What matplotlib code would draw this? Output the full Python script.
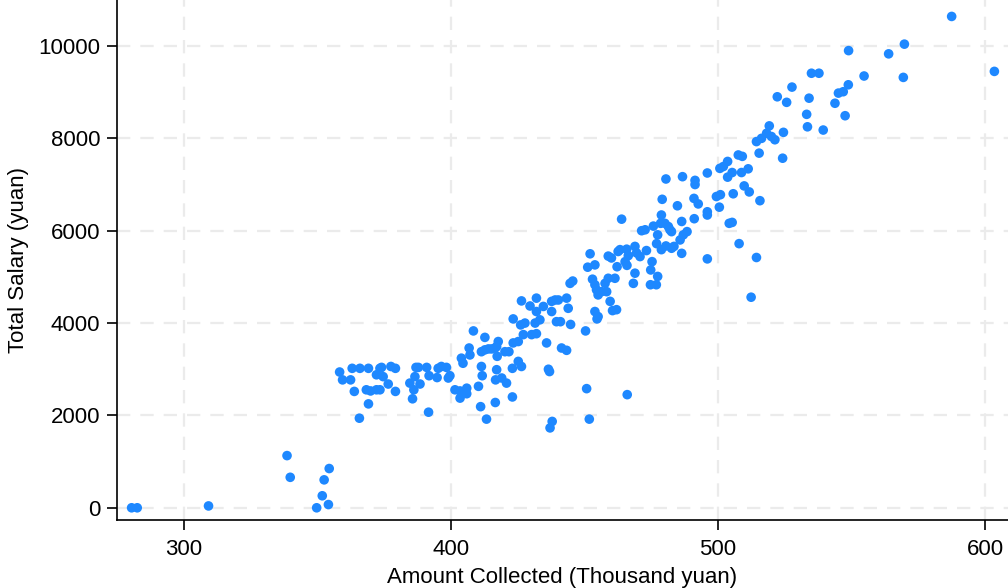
import matplotlib.pyplot as plt

# amount collected (thousand yuan) and total salary (yuan) per employee
amount = [
    280.4, 282.5, 309.2, 338.6, 339.8, 349.7, 354.1, 351.8, 352.5, 354.4,
    358.3, 359.4, 363.0, 362.4, 363.8, 365.7, 365.9, 369.1, 369.1, 368.3,
    369.9, 372.1, 373.4, 372.1, 373.4, 374.0, 374.6, 376.5, 377.5, 379.2,
    379.2, 384.6, 386.5, 386.9, 387.8, 390.9, 388.4, 386.1, 385.6, 391.6,
    391.8, 394.8, 395.2, 396.4, 398.3, 399.0, 399.6, 401.5, 403.4, 405.9,
    405.9, 403.4, 403.9, 404.5, 406.8, 407.1, 408.4, 410.3, 411.1, 411.4,
    411.7, 411.4, 412.7, 414.0, 415.2, 416.5, 417.7, 417.1, 412.7, 417.3,
    417.1, 416.7, 419.0, 420.8, 416.6, 413.3, 420.2, 421.7, 423.3, 423.0,
    423.0, 423.3, 425.2, 425.2, 426.4, 426.1, 427.7, 427.1, 426.4, 429.6,
    432.0, 432.0, 434.6, 437.7, 439.0, 440.2, 437.7, 443.3, 443.9, 444.6,
    445.6, 431.5, 433.3, 439.5, 441.0, 444.8, 430.2, 432.0, 435.8, 441.4,
    443.3, 436.5, 436.9, 450.4, 450.8, 466.0, 437.9, 437.1, 451.8, 452.1,
    451.2, 453.9, 453.0, 453.9, 454.5, 455.1, 456.4, 458.3, 457.7, 458.9,
    461.4, 459.6, 453.9, 455.1, 454.7, 460.5, 462.0, 458.9, 460.1, 462.6,
    463.3, 465.8, 465.2, 466.4, 468.9, 469.5, 468.9, 468.3, 462.2, 463.9,
    471.4, 472.7, 475.8, 478.8, 478.5, 480.1, 481.4, 482.0, 482.6, 477.4,
    477.0, 478.8, 480.5, 482.6, 483.5, 479.1, 480.5, 484.8, 486.4, 486.4,
    485.8, 487.0, 488.4, 486.7, 491.4, 491.4, 491.0, 492.6, 491.1, 496.0,
    496.0, 496.0, 470.8, 473.2, 475.3, 474.8, 477.4, 474.7, 476.9, 465.9,
    522.2, 525.7, 519.2, 518.2, 516.3, 514.4, 520.0, 521.3, 524.5, 515.4,
    524.2, 507.6, 509.1, 503.6, 500.7, 502.0, 505.3, 503.6, 508.8, 511.3,
    509.8, 511.7, 499.4, 500.9, 505.7, 515.7, 500.5, 496.0, 504.2, 505.3,
    507.9, 514.4, 535.0, 537.8, 548.8, 546.9, 545.1, 543.8, 547.6, 527.7,
    534.1, 533.2, 533.5, 539.4, 587.5, 603.5, 569.8, 569.4, 563.9, 554.7,
    548.9, 512.4,
]
salary = [
    0, 0, 40, 1130, 660, 0, 70, 260, 605, 850,
    2940, 2770, 3020, 2770, 2520, 1940, 3020, 3020, 2250, 2555,
    2530, 2555, 2555, 2880, 3020, 3040, 2840, 2680, 3060, 3020,
    2520, 2700, 2840, 3040, 3040, 3040, 2680, 2555, 2360, 2070,
    2860, 2820, 3020, 3060, 3040, 2810, 2860, 2555, 2530, 2590,
    2470, 2375, 3240, 3130, 3460, 3310, 3830, 2630, 2190, 3060,
    2860, 3380, 3420, 3440, 3440, 3460, 3600, 3490, 3690, 3280,
    2990, 2770, 2810, 2700, 2280, 1920, 3380, 3380, 4090, 3020,
    2400, 3570, 3600, 3170, 3060, 3960, 4000, 3750, 4480, 4370,
    4540, 4250, 4360, 4470, 4500, 4500, 4250, 4540, 4320, 4860,
    4910, 4000, 4070, 4030, 4030, 3970, 3750, 3770, 3570, 3460,
    3410, 3000, 2950, 3830, 2580, 2450, 1870, 1730, 1920, 5500,
    5210, 5260, 4950, 4830, 4720, 4610, 4680, 4680, 4860, 4970,
    4970, 4470, 4250, 4140, 4090, 4270, 4290, 5450, 5410, 5550,
    5590, 5600, 5330, 5460, 5660, 5520, 5080, 4860, 5220, 6250,
    6000, 6020, 6100, 6340, 6160, 6160, 6090, 6020, 5980, 5910,
    5720, 5590, 5670, 5620, 5660, 6680, 7120, 6540, 6200, 5510,
    5800, 5910, 5980, 7170, 7090, 7000, 6700, 6580, 6260, 7250,
    6410, 5390, 5440, 5570, 5330, 5150, 5010, 4830, 4830, 5250,
    8900, 8780, 8270, 8110, 8000, 7930, 8040, 7970, 8130, 7680,
    7570, 7640, 7610, 7500, 7350, 7390, 7260, 7160, 7260, 7340,
    6970, 6840, 6740, 6780, 6800, 6650, 6510, 6340, 6160, 6180,
    5720, 5420, 9410, 9410, 9160, 9010, 8980, 8760, 8490, 9110,
    8870, 8520, 8250, 8180, 10640, 9450, 10040, 9320, 9830, 9350,
    9900, 4560,
]

x_ticks = [300, 400, 500, 600]
y_ticks = [0, 2000, 4000, 6000, 8000, 10000]

plt.rcParams['font.family'] = ['Liberation Sans', 'DejaVu Sans']

fig = plt.figure(figsize=(10.08, 5.88), dpi=100)
ax = fig.add_axes([0.116, 0.116, 0.884, 0.884])

ax.scatter(amount, salary, s=48, color='#1e88ff', edgecolors='none', zorder=3)

ax.set_xlim(274.9, 608.6)
ax.set_ylim(-260, 10996)
ax.set_xticks(x_ticks)
ax.set_yticks(y_ticks)

ax.set_xlabel('Amount Collected (Thousand yuan)', fontsize=16, labelpad=5)
ax.set_ylabel('Total Salary (yuan)', fontsize=16, labelpad=7)
ax.tick_params(axis='both', labelsize=16, direction='out', length=7, width=1.2)
ax.tick_params(axis='x', pad=7)
ax.tick_params(axis='y', pad=5)

ax.grid(True, color='#ebebeb', linestyle=(0, (6, 4.5)), linewidth=1.6, zorder=0)
ax.set_axisbelow(True)
ax.spines['top'].set_visible(False)
ax.spines['right'].set_visible(False)
ax.spines['left'].set_linewidth(1.2)
ax.spines['bottom'].set_linewidth(1.2)

plt.savefig('out.png', dpi=100)
